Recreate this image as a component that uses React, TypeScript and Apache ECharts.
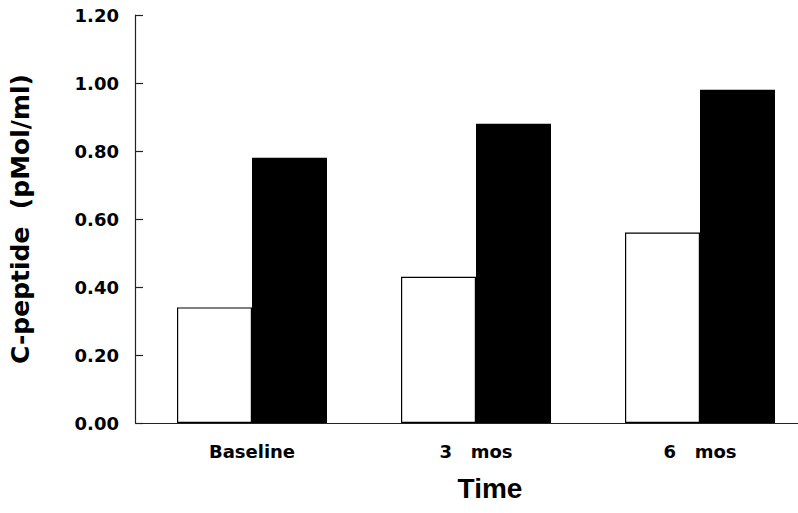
import React, { useEffect, useRef } from "react";
import * as echarts from "echarts";

const categories = ["Baseline", "3   mos", "6   mos"];
const whiteSeries = [0.34, 0.43, 0.56];
const blackSeries = [0.78, 0.88, 0.98];
const yTicks = { min: 0, max: 1.2, interval: 0.2 };

export default function App() {
  const ref = useRef<HTMLDivElement>(null);
  useEffect(() => {
    if (!ref.current) return;
    const chart = echarts.init(ref.current, null, { renderer: "svg" });
    chart.setOption({
      animation: false,
      backgroundColor: "#ffffff",
      grid: { left: 140, right: 8, top: 15, bottom: 90 },
      xAxis: {
        type: "category",
        data: categories,
        name: "Time",
        nameLocation: "middle",
        nameGap: 51,
        nameTextStyle: {
          fontFamily: "Liberation Sans",
          fontWeight: "bold",
          fontSize: 28,
          color: "#000",
          padding: [0, 0, 0, 28],
        },
        axisTick: { show: false },
        axisLine: { lineStyle: { color: "#222", width: 1.2 } },
        axisLabel: {
          margin: 19,
          fontFamily: "DejaVu Sans",
          fontWeight: "bold",
          fontSize: 18,
          color: "#000",
        },
      },
      yAxis: {
        type: "value",
        min: yTicks.min,
        max: yTicks.max,
        interval: yTicks.interval,
        offset: 5,
        name: "C-peptide  (pMol/ml)",
        nameLocation: "middle",
        nameGap: 102,
        nameTextStyle: {
          fontFamily: "DejaVu Sans",
          fontWeight: "bold",
          fontSize: 25,
          color: "#000",
        },
        splitLine: { show: false },
        axisLine: { show: true, lineStyle: { color: "#222", width: 1.2 } },
        axisTick: { show: true, inside: true, length: 8, lineStyle: { color: "#222", width: 1.2 } },
        axisLabel: {
          margin: 16,
          fontFamily: "DejaVu Sans",
          fontWeight: "bold",
          fontSize: 18,
          color: "#000",
          formatter: (v: number) => v.toFixed(2),
        },
      },
      series: [
        {
          type: "bar",
          data: whiteSeries,
          barWidth: 75,
          barGap: "0%",
          itemStyle: { color: "#ffffff", borderColor: "#000", borderWidth: 1.2 },
        },
        {
          type: "bar",
          data: blackSeries,
          barWidth: 75,
          barGap: "0%",
          itemStyle: { color: "#000000" },
        },
      ],
    });
    return () => chart.dispose();
  }, []);
  return (
    <div
      style={{
        position: "absolute",
        left: 0,
        top: 0,
        width: 798,
        height: 513,
        overflow: "hidden",
        background: "#fff",
      }}
    >
      <div ref={ref} style={{ width: 820, height: 513 }} />
    </div>
  );
}
